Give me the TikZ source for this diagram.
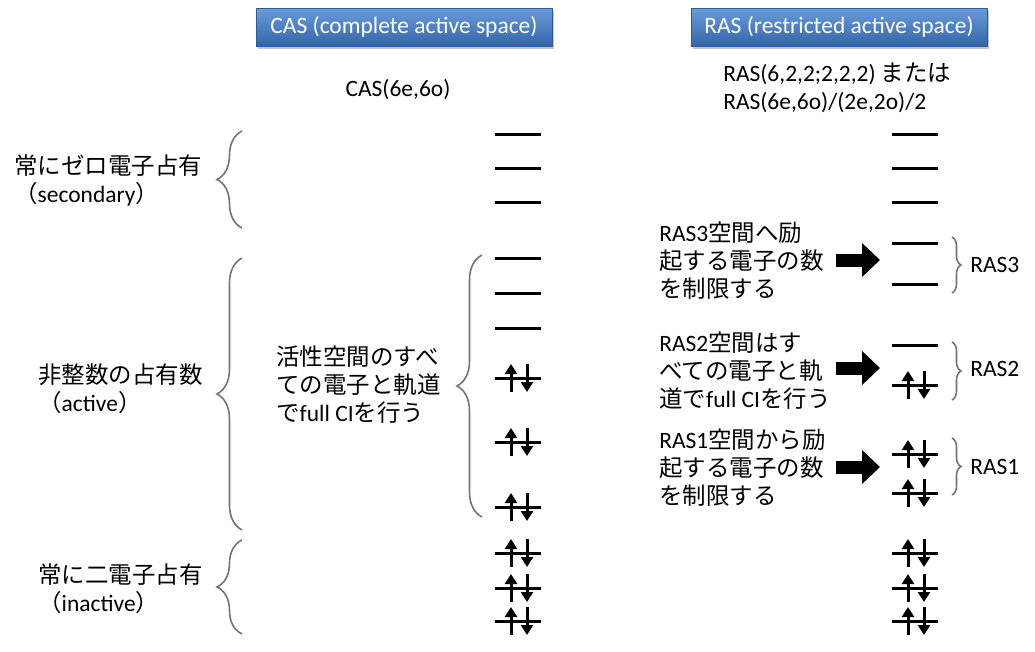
\documentclass[tikz,border=0pt]{standalone}
\usepackage{fontspec}
\setmainfont{Carlito}
\newfontfamily\jp{Noto Sans CJK JP}
\usetikzlibrary{arrows.meta,decorations.pathreplacing,shadows}
\definecolor{bleuhaut}{HTML}{6A9BDB}
\definecolor{bleubas}{HTML}{3465A8}
\definecolor{bleubord}{HTML}{2F5C98}
\tikzstyle{titre}=[rectangle,draw=bleubord,top color=bleuhaut,bottom color=bleubas,
text=white,minimum width=222pt,minimum height=28.5pt,inner sep=0pt,
font=\fontsize{17.6pt}{21pt}\selectfont,
drop shadow={shadow xshift=1.5pt,shadow yshift=-2pt,opacity=0.45}]
\tikzstyle{texte}=[inner sep=0pt,align=left,text=black,
font=\fontsize{17.6pt}{21pt}\selectfont]
\tikzstyle{orbitale}=[line width=2.25pt]
\tikzstyle{spin}=[line width=2.25pt,-{Triangle[length=7.5pt,width=9pt]}]
\tikzstyle{accolade}=[draw=black!55,line width=1.2pt,decorate,
decoration={brace,amplitude=18.75pt}]
\tikzstyle{petiteaccolade}=[draw=black!55,line width=1.2pt,decorate,
decoration={brace,amplitude=6.75pt}]
\tikzstyle{fleche}=[line width=9.75pt,-{Triangle[length=13.5pt,width=24.75pt]}]
\newcommand{\niveau}[2]{\draw[orbitale] (#1-23,#2) -- (#1+23,#2);}
\newcommand{\paire}[2]{\niveau{#1}{#2}
\draw[spin] (#1-7,#2+14) -- (#1-7,#2-14);
\draw[spin] (#1+9,#2-14) -- (#1+9,#2+14);}
\begin{document}
\begin{tikzpicture}[x=0.75pt,y=-0.75pt]
\useasboundingbox (0,0) rectangle (1035,651);
% titres
\node[titre] (TC) at (404,27) {CAS (complete active space)};
\node[titre] (TR) at (839,27) {RAS (restricted active space)};
\node[texte] (NC) at (398,90) {CAS(6e,6o)};
\node[texte,anchor=west] (NR) at (723,88) {RAS(6,2,2;2,2,2) {\jp または}\\RAS(6e,6o)/(2e,2o)/2};

% textes de gauche
\node[texte,anchor=west] (LS) at (14,181) {{\jp 常にゼロ電子占有}\\{\jp （}secondary{\jp ）}};
\node[texte,anchor=west] (LA) at (38,389) {{\jp 非整数の占有数}\\{\jp （}active{\jp ）}};
\node[texte,anchor=west] (LI) at (38,589) {{\jp 常に二電子占有}\\{\jp （}inactive{\jp ）}};
\node[texte,anchor=west] (CI) at (276,385) {{\jp 活性空間のすべ}\\{\jp ての電子と軌道}\\{\jp で}full CI{\jp を行う}};

% textes RAS
\node[texte,anchor=west] (R3) at (659,261) {RAS3{\jp 空間へ励}\\{\jp 起する電子の数}\\{\jp を制限する}};
\node[texte,anchor=west] (R2) at (659,371) {RAS2{\jp 空間はす}\\{\jp べての電子と軌}\\{\jp 道で}full CI{\jp を行う}};
\node[texte,anchor=west] (R1) at (659,468) {RAS1{\jp 空間から励}\\{\jp 起する電子の数}\\{\jp を制限する}};
\node[texte,anchor=west] (E3) at (970,265) {RAS3};
\node[texte,anchor=west] (E2) at (970,369) {RAS2};
\node[texte,anchor=west] (E1) at (970,467) {RAS1};

% orbitales CAS
\niveau{518}{134} \niveau{518}{168} \niveau{518}{202}
\niveau{518}{258} \niveau{518}{293} \niveau{518}{328}
\paire{518}{378} \paire{518}{442} \paire{518}{507}
\paire{518}{553} \paire{518}{588} \paire{518}{621}

% orbitales RAS
\niveau{915}{134} \niveau{915}{168} \niveau{915}{202}
\niveau{915}{243} \niveau{915}{284}
\niveau{915}{345} \paire{915}{385}
\paire{915}{454} \paire{915}{493}
\paire{915}{553} \paire{915}{588} \paire{915}{621}

% accolades
\draw[accolade] (242,228) -- (242,131);
\draw[accolade] (242,530) -- (242,258);
\draw[accolade] (242,634) -- (242,540);
\draw[accolade] (482,517) -- (482,255);
\draw[petiteaccolade] (952,237) -- (952,293);
\draw[petiteaccolade] (952,342) -- (952,400);
\draw[petiteaccolade] (952,438) -- (952,495);

% grosses fleches
\coordinate (A3) at (836,260); \coordinate (B3) at (880,260);
\coordinate (A2) at (836,368); \coordinate (B2) at (880,368);
\coordinate (A1) at (836,467); \coordinate (B1) at (880,467);
\draw[fleche] (A3)--(B3);
\draw[fleche] (A2)--(B2);
\draw[fleche] (A1)--(B1);
\end{tikzpicture}
\end{document}
